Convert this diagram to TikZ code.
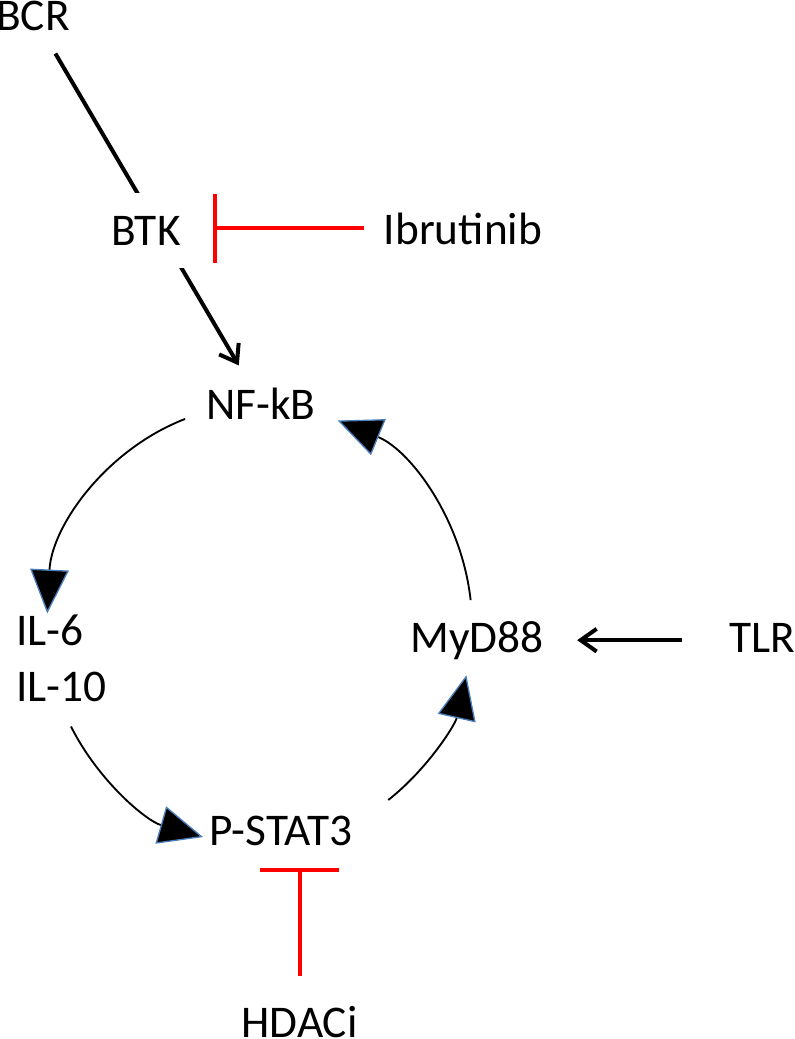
\documentclass[tikz,border=0pt]{standalone}
\usepackage{fontspec}
\setmainfont{Carlito}
\usetikzlibrary{arrows.meta}
\definecolor{tipblue}{RGB}{74,126,187}

\begin{document}
\begin{tikzpicture}[x=0.75pt,y=-0.75pt,
  every node/.style={inner sep=0pt,anchor=base,font=\fontsize{34}{42}\selectfont},
  act/.style={line width=3pt,-{Straight Barb[length=12pt,width=17pt]}},
  inh/.style={line width=3pt,red},
  cyc/.style={line width=1.4pt,-{Triangle[length=33pt,width=29pt,fill=black,color=tipblue,line width=1pt]}}]
\useasboundingbox (0,0) rectangle (795,1039);
\node (bcr) at (33,30) {BCR};
\node (nfkb) at (261,419) {NF-kB};
\draw[act,shorten <=20pt,shorten >=19pt] (bcr) -- (nfkb);
\node[fill=white,inner xsep=4pt,inner ysep=17pt] (btk) at (146,245) {BTK};
\node (ibru) at (463,244) {Ibrutinib};
\draw[inh,-{Bar[width=52pt]},shorten <=14.5pt,shorten >=20pt] (ibru.west) -- (ibru.west -| btk.east);
\node[anchor=base west] (il6) at (16,645) {IL-6};
\node[anchor=base west] (il10) at (16,701) {IL-10};
\node (mydd) at (477,652) {MyD88};
\node (tlr) at (762,652) {TLR};
\draw[act,shorten <=35pt,shorten >=25pt] (mydd.east -| tlr.west) -- (mydd.east);
\node (pstat) at (281,845) {P-STAT3};
\node (hdaci) at (299.5,1037) {HDACi};
\draw[inh,-{Bar[width=59pt]},shorten <=22.5pt,shorten >=16.5pt] (hdaci.north) -- (hdaci.north |- pstat.south);
\coordinate (ring) at (259.5,625);
\draw[cyc] ([shift={(-110.5:212.5 and 220)}]ring) arc[start angle=-110.5,end angle=-177,x radius=212.5,y radius=220];
\draw[cyc] ([shift={(152.5:212.5 and 220)}]ring) arc[start angle=152.5,end angle=105.4,x radius=212.5,y radius=220];
\draw[cyc] ([shift={(52.7:212.5 and 220)}]ring) arc[start angle=52.7,end angle=13.2,x radius=212.5,y radius=220];
\draw[cyc] ([shift={(-6.5:212.5 and 220)}]ring) arc[start angle=-6.5,end angle=-68.4,x radius=212.5,y radius=220];
\end{tikzpicture}
\end{document}
